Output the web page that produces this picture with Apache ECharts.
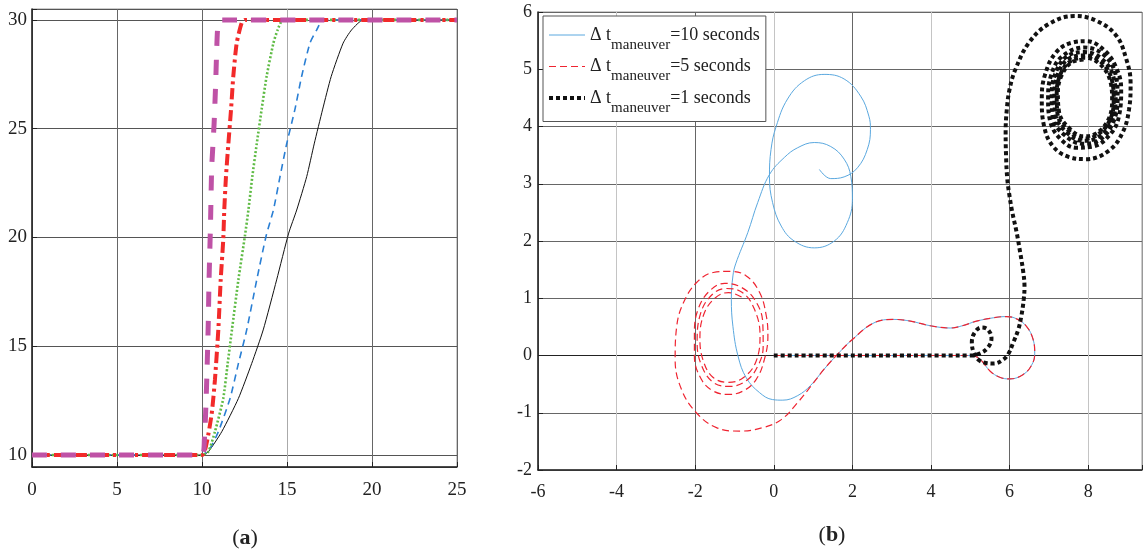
<!DOCTYPE html>
<html>
<head>
<meta charset="utf-8">
<title>Maneuver</title>
<script src="https://cdn.jsdelivr.net/npm/echarts@6/dist/echarts.min.js"></script>
<style>
  html, body { margin: 0; padding: 0; background: #fff; }
  #chart { width: 1145px; height: 556px; }
</style>
</head>
<body>
<div id="chart"></div>
<script>
// (a) step responses, [t, value]
const stepDt10 = [[0, 10], [10, 10], [10.37, 10.15], [11.16, 11.07], [12.14, 12.6], [12.92, 14.2], [13.6, 15.75], [14.39, 18.05],
  [15.1, 20.2], [15.57, 21.26], [16.16, 22.8], [16.6, 24.3], [17.1, 25.9], [17.6, 27.4], [18.3, 28.93], [18.8, 29.54], [19.5, 30], [25, 30]];
const stepDt7 = [[0, 10], [10, 10], [10.47, 10.3], [10.96, 11.07], [11.65, 12.6], [12.14, 14.2], [12.63, 15.75], [13.22, 18.05],
  [13.78, 20.1], [14.2, 21.26], [14.59, 22.8], [14.98, 24.3], [15.47, 25.9], [15.86, 27.4], [16.35, 28.93], [16.75, 29.54], [17.14, 30], [25, 30]];
const stepDt5 = [[0, 10], [10, 10], [10.37, 10.15], [10.76, 11.07], [11.25, 12.6], [11.51, 14.2], [11.76, 15.75], [12.14, 18.05],
  [12.53, 20.1], [12.73, 21.26], [12.96, 22.8], [13.22, 24.3], [13.51, 25.9], [13.8, 27.4], [14.2, 28.93], [14.45, 29.54], [14.78, 30], [25, 30]];
const stepDt2 = [[0, 10], [10, 10], [10.27, 10.54], [10.57, 11.9], [10.76, 13.45], [10.96, 15.75], [11.1, 18.05], [11.25, 19.9],
  [11.31, 21.26], [11.41, 22.8], [11.55, 24.3], [11.71, 25.9], [11.84, 27.4], [12.04, 28.93], [12.33, 29.85], [12.53, 30], [25, 30]];
const stepDt1 = [[0, 10], [10, 10], [10.14, 10.7], [10.24, 12.5], [10.31, 14.3], [10.37, 16.1], [10.41, 17.9], [10.47, 19.7],
  [10.5, 20.6], [10.57, 23.2], [10.71, 25.2], [10.8, 27], [10.86, 28.5], [10.92, 29.6], [11.05, 30], [25, 30]];

// (b) trajectories, [x, y]
const path10s = [[0, 0], [2.5, 0], [5.0, 0], [5.15, -0.02], [5.3, -0.1], [5.5, -0.27], [5.75, -0.38], [6.01, -0.41], [6.35, -0.33],
  [6.56, -0.17], [6.64, 0.03], [6.6, 0.28], [6.43, 0.51], [6.18, 0.64], [5.92, 0.68], [5.6, 0.66], [5.16, 0.6], [4.8, 0.52],
  [4.49, 0.48], [3.98, 0.52], [3.48, 0.6], [3.06, 0.63], [2.55, 0.57], [2.0, 0.28], [1.62, 0.02], [1.28, -0.24], [0.94, -0.52],
  [0.61, -0.7], [0.23, -0.78], [-0.03, -0.77], [-0.36, -0.65], [-0.7, -0.39], [-0.91, -0.01], [-1.04, 0.51], [-1.08, 0.98],
  [-1.04, 1.39], [-0.97, 1.6], [-0.66, 2.15], [-0.41, 2.67], [-0.11, 3.16], [0.27, 3.46], [0.61, 3.63], [1.03, 3.72], [1.45, 3.65],
  [1.79, 3.43], [1.96, 3.13], [2.0, 2.73], [1.87, 2.32], [1.54, 2.0], [1.03, 1.88], [0.52, 2.0], [0.19, 2.26], [-0.03, 2.67],
  [-0.11, 3.13], [-0.07, 3.6], [0.06, 4.0], [0.35, 4.48], [0.78, 4.8], [1.28, 4.91], [1.79, 4.83], [2.21, 4.53], [2.42, 4.18],
  [2.46, 3.95], [2.38, 3.6], [2.13, 3.28], [1.79, 3.12], [1.45, 3.09], [1.16, 3.25]];
const path5s = [[0, 0], [2.5, 0], [5.0, 0], [5.15, -0.02], [5.3, -0.1], [5.5, -0.27], [5.75, -0.38], [6.01, -0.41], [6.35, -0.33],
  [6.56, -0.17], [6.64, 0.03], [6.6, 0.28], [6.43, 0.51], [6.18, 0.64], [5.92, 0.68], [5.6, 0.66], [5.16, 0.6], [4.8, 0.52],
  [4.49, 0.48], [3.98, 0.52], [3.48, 0.6], [3.06, 0.63], [2.55, 0.57], [2.0, 0.28], [1.62, 0.02], [1.28, -0.24], [0.94, -0.54],
  [0.61, -0.82], [0.19, -1.12], [-0.28, -1.26], [-0.87, -1.32], [-1.46, -1.26], [-1.97, -1.0], [-2.35, -0.59], [-2.51, -0.07],
  [-2.47, 0.51], [-2.3, 0.92], [-1.97, 1.27], [-1.54, 1.45], [-1.12, 1.47], [-0.7, 1.39], [-0.36, 1.1], [-0.19, 0.69],
  [-0.15, 0.34], [-0.24, -0.07], [-0.45, -0.42], [-0.78, -0.62], [-1.16, -0.68], [-1.54, -0.62], [-1.84, -0.42], [-2.02, -0.01],
  [-2.02, 0.4], [-1.92, 0.82], [-1.63, 1.13], [-1.25, 1.26], [-0.85, 1.2], [-0.49, 0.98], [-0.28, 0.57], [-0.27, 0.16],
  [-0.41, -0.19], [-0.7, -0.44], [-1.12, -0.54], [-1.54, -0.47], [-1.84, -0.17], [-1.95, 0.22], [-1.86, 0.74], [-1.56, 1.07],
  [-1.2, 1.17], [-0.8, 1.1], [-0.5, 0.82], [-0.35, 0.36], [-0.45, -0.1], [-0.76, -0.38], [-1.15, -0.47], [-1.55, -0.38],
  [-1.8, -0.08], [-1.88, 0.3], [-1.78, 0.72], [-1.5, 1.0], [-1.15, 1.1], [-0.82, 1.02]];
const path1s = [[0, 0], [2.5, 0], [5.0, 0], [5.25, 0.04], [5.45, 0.14], [5.54, 0.3], [5.45, 0.45], [5.29, 0.49], [5.12, 0.41],
  [5.04, 0.23], [5.1, 0.03], [5.22, -0.08], [5.4, -0.13], [5.6, -0.14], [5.84, -0.07], [5.97, 0.03], [6.09, 0.22], [6.22, 0.45],
  [6.3, 0.69], [6.36, 0.98], [6.38, 1.2], [6.35, 1.45], [6.27, 1.8], [6.18, 2.15], [6.07, 2.5], [6.0, 2.78], [5.94, 3.1],
  [5.91, 3.5], [5.9, 3.9], [5.93, 4.3], [6.0, 4.65], [6.15, 5.0], [6.5, 5.47], [7.0, 5.79], [7.65, 5.93], [8.2, 5.85], [8.7, 5.6],
  [8.96, 5.2], [9.08, 4.75], [9.04, 4.3], [8.88, 3.9], [8.53, 3.58], [7.95, 3.43], [7.5, 3.47], [7.11, 3.65], [6.88, 4.0],
  [6.82, 4.48], [6.9, 4.9], [7.19, 5.3], [7.62, 5.47], [7.95, 5.49], [8.38, 5.35], [8.7, 5.05], [8.84, 4.65], [8.79, 4.2],
  [8.58, 3.88], [8.12, 3.65], [7.7, 3.63], [7.3, 3.78], [7.03, 4.1], [6.98, 4.5], [7.06, 4.9], [7.33, 5.22], [7.9, 5.38],
  [8.4, 5.25], [8.7, 4.9], [8.75, 4.5], [8.62, 4.05], [8.25, 3.75], [7.85, 3.7], [7.4, 3.85], [7.1, 4.15], [7.07, 4.55],
  [7.18, 4.95], [7.45, 5.22], [7.9, 5.3], [8.35, 5.18], [8.65, 4.85], [8.7, 4.45], [8.57, 4.05], [8.22, 3.8], [7.85, 3.75],
  [7.45, 3.9], [7.17, 4.2], [7.14, 4.58], [7.25, 4.95], [7.5, 5.18], [7.9, 5.24], [8.32, 5.13], [8.6, 4.82], [8.65, 4.45],
  [8.53, 4.08], [8.2, 3.84], [7.87, 3.79], [7.5, 3.93], [7.22, 4.22], [7.2, 4.58], [7.3, 4.92], [7.55, 5.14], [7.9, 5.2],
  [8.28, 5.1], [8.56, 4.8], [8.61, 4.45], [8.5, 4.1], [8.18, 3.87], [7.88, 3.83], [7.55, 3.95], [7.26, 4.25], [7.23, 4.6],
  [7.33, 4.9], [7.58, 5.12], [7.9, 5.17]];

const durations = [10, 5, 1];
const legendNames = durations.map(d => 'Δ t maneuver=' + d + ' seconds');

const xTicksA = [0, 5, 10, 15, 20, 25];
const yTicksA = [10, 15, 20, 25, 30];
const xTicksB = [-6, -4, -2, 0, 2, 4, 6, 8];
const yTicksB = [-2, -1, 0, 1, 2, 3, 4, 5, 6];

const serif = '"Liberation Serif", "DejaVu Serif", serif';
const tickFmt = ticks => v => (ticks.some(t => Math.abs(t - v) < 1e-6) ? String(v) : '');

// styles of the (b) lines, shared by series and legend
const styleB = [
  {color: '#5aa8df', width: 1, type: 'solid', cap: 'butt'},
  {color: '#ef2431', width: 1.2, type: [7, 4], cap: 'butt'},
  {color: '#111', width: 4, type: [4, 3], cap: 'butt'}
];

const axisBase = (fontSize, margin) => ({
  type: 'value',
  axisLine: {show: true, onZero: false, lineStyle: {color: '#222', width: 1.5}},
  axisTick: {show: true, inside: true, length: 5, lineStyle: {color: '#222'}},
  axisLabel: {fontFamily: serif, fontSize: fontSize, color: '#222', margin: margin},
});

const lineA = (data, color, width, type, z) => ({
  type: 'line', xAxisIndex: 0, yAxisIndex: 0, data: data,
  symbol: 'none', smooth: 0.2, z: z,
  lineStyle: {color: color, width: width, type: type, cap: 'butt'},
  silent: true
});

const lineB = (i, data, z) => ({
  name: legendNames[i], type: 'line', xAxisIndex: 1, yAxisIndex: 1, data: data,
  symbol: 'none', smooth: 0.4, z: z,
  itemStyle: {color: styleB[i].color},
  lineStyle: styleB[i],
  silent: true
});

const option = {
  animation: false,
  backgroundColor: '#fff',
  grid: [
    {left: 32, top: 9, width: 425, height: 458, show: true, borderColor: '#999', borderWidth: 1},
    {left: 538, top: 12, width: 607, height: 458, show: true, borderColor: '#999', borderWidth: 1}
  ],
  xAxis: [
    Object.assign(axisBase(19, 14), {
      gridIndex: 0, min: 0, max: 25, interval: 5,
      axisLabel: Object.assign(axisBase(19, 14).axisLabel, {formatter: tickFmt(xTicksA)}),
      splitLine: {show: true, lineStyle: {color: ['#666', '#666', '#666', '#aaa', '#666', '#666'], width: 1}}
    }),
    Object.assign(axisBase(18, 13), {
      gridIndex: 1, min: -6, max: 9.37, interval: 2,
      axisLabel: Object.assign(axisBase(18, 13).axisLabel, {formatter: tickFmt(xTicksB)}),
      splitLine: {show: true, lineStyle: {color: ['#777', '#c4c4c4', '#666', '#c4c4c4', '#666', '#c4c4c4', '#666', '#c4c4c4', '#999'], width: 1}}
    })
  ],
  yAxis: [
    Object.assign(axisBase(19, 5), {
      gridIndex: 0, min: 9.45, max: 30.5, splitNumber: 4,
      axisLabel: Object.assign(axisBase(19, 5).axisLabel, {formatter: tickFmt(yTicksA)}),
      splitLine: {show: true, lineStyle: {color: '#555', width: 1}}
    }),
    Object.assign(axisBase(18, 6), {
      gridIndex: 1, min: -2, max: 6, interval: 1,
      axisLabel: Object.assign(axisBase(18, 6).axisLabel, {formatter: tickFmt(yTicksB)}),
      splitLine: {show: true, lineStyle: {color: ['#777', '#666', '#222', '#666', '#666', '#666', '#666', '#666', '#666'], width: 1}}
    })
  ],
  legend: {
    data: legendNames.map((name, i) => ({
      name: name,
      lineStyle: styleB[i],
      itemStyle: {opacity: 0}
    })),
    left: 543, top: 16,
    orient: 'vertical',
    itemWidth: 36, itemHeight: 14, itemGap: 5,
    padding: [10, 6, 6, 4],
    borderColor: '#555', borderWidth: 1, backgroundColor: '#fff',
    formatter: name => {
      const d = name.match(/=(\d+)/)[1];
      return '{m|Δ t}{s|maneuver}{m|=' + d + ' seconds}';
    },
    textStyle: {
      color: '#222',
      rich: {
        m: {fontFamily: serif, fontSize: 18, color: '#222'},
        s: {fontFamily: serif, fontSize: 15, color: '#222', padding: [20, 0, 0, 0]}
      }
    }
  },
  graphic: [
    {type: 'text', x: 245, y: 538, style: {text: '{p|(}{b|a}{p|)}', align: 'center', verticalAlign: 'middle',
      rich: {p: {fontFamily: serif, fontSize: 22, fill: '#222'}, b: {fontFamily: serif, fontSize: 22, fontWeight: 'bold', fill: '#222'}}}},
    {type: 'text', x: 832, y: 535, style: {text: '{p|(}{b|b}{p|)}', align: 'center', verticalAlign: 'middle',
      rich: {p: {fontFamily: serif, fontSize: 22, fill: '#222'}, b: {fontFamily: serif, fontSize: 22, fontWeight: 'bold', fill: '#222'}}}}
  ],
  series: [
    lineA(stepDt10, '#111', 1, 'solid', 2),
    lineA(stepDt7, '#2a7fd4', 1.6, [7, 5], 3),
    lineA(stepDt5, '#5fbb45', 2.6, [2, 2], 4),
    lineA(stepDt2, '#f22a2a', 4, [11, 4, 3, 4], 5),
    lineA(stepDt1, '#bf52a6', 5, [15, 14], 6),
    lineB(0, path10s, 2),
    lineB(1, path5s, 3),
    lineB(2, path1s, 4)
  ]
};

const chart = echarts.init(document.getElementById('chart'));
chart.setOption(option);
</script>
</body>
</html>
